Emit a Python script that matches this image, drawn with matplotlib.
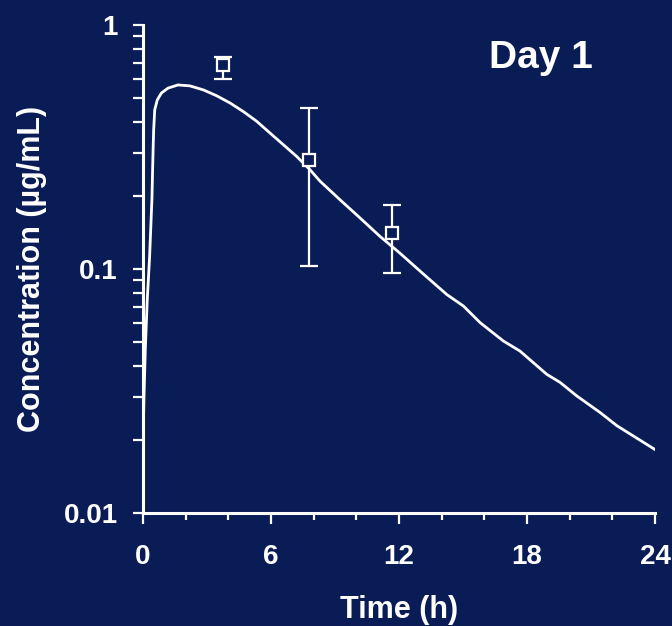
import matplotlib
matplotlib.use("Agg")
import matplotlib.pyplot as plt
from matplotlib.ticker import LogLocator, NullFormatter, FixedLocator

# ---- data ----
curve_time = [0.0, 0.047, 0.108, 0.20, 0.31, 0.42, 0.45, 0.47, 0.50, 0.55, 0.67, 0.86,
              1.17, 1.64, 2.20, 2.83, 3.45, 4.08, 4.70, 5.33, 5.95, 6.58, 7.21, 7.83,
              8.30, 9.24, 10.17, 11.11, 12.05, 12.99, 14.24, 15.02, 15.80, 16.89,
              17.67, 18.93, 19.55, 20.33, 21.43, 22.21, 24.0]
curve_conc = [0.0191, 0.0301, 0.0469, 0.0750, 0.1125, 0.195, 0.255, 0.300, 0.372, 0.449,
              0.493, 0.526, 0.551, 0.568, 0.563, 0.542, 0.513, 0.479, 0.442, 0.403,
              0.361, 0.323, 0.289, 0.255, 0.229, 0.192, 0.162, 0.136, 0.116, 0.098,
              0.0786, 0.0705, 0.0603, 0.0507, 0.0461, 0.0370, 0.0343, 0.0302, 0.0258,
              0.0228, 0.0182]

obs_time = [3.76, 7.78, 11.66]
obs_conc = [0.686, 0.2805, 0.1406]
obs_upper = [0.738, 0.456, 0.1836]
obs_lower = [0.601, 0.1027, 0.0965]

x_ticks = [0, 6, 12, 18, 24]
y_ticks = [0.01, 0.1, 1]
y_tick_labels = ["0.01", "0.1", "1"]
x_label = "Time (h)"
y_label = "Concentration (µg/mL)"
title_text = "Day 1"

# ---- style ----
BG = "#0a1c56"
FG = "white"
plt.rcParams["font.family"] = ["Liberation Sans", "DejaVu Sans"]
plt.rcParams["font.weight"] = "bold"

fig = plt.figure(figsize=(6.72, 6.26), dpi=100, facecolor=BG)
ax = fig.add_axes([143 / 672, 1 - 513 / 626, 512 / 672, 488 / 626], facecolor=BG)

ax.plot(curve_time, curve_conc, color=FG, lw=2.0, solid_joinstyle="round", zorder=2)

yerr = [[c - l for c, l in zip(obs_conc, obs_lower)],
        [u - c for c, u in zip(obs_conc, obs_upper)]]
ax.errorbar(obs_time, obs_conc, yerr=yerr, fmt="s", ms=8.5, mfc=BG, mec=FG, mew=1.6,
            ecolor=FG, elinewidth=1.6, capsize=6.5, capthick=1.6, zorder=3)

ax.set_yscale("log")
ax.set_xlim(0, 24)
ax.set_ylim(0.01, 1)

ax.set_xticks(x_ticks)
ax.xaxis.set_minor_locator(FixedLocator([2, 4, 8, 10, 14, 16, 20, 22]))
ax.set_yticks(y_ticks)
ax.set_yticklabels(y_tick_labels)
ax.yaxis.set_minor_locator(LogLocator(base=10, subs=range(2, 10)))
ax.yaxis.set_minor_formatter(NullFormatter())

for s in ["top", "right"]:
    ax.spines[s].set_visible(False)
for s in ["left", "bottom"]:
    ax.spines[s].set_color(FG)
    ax.spines[s].set_linewidth(2.2)

ax.tick_params(axis="both", which="both", colors=FG, width=1.6, direction="out")
ax.tick_params(axis="x", which="major", length=8, pad=14, labelsize=20)
ax.tick_params(axis="x", which="minor", length=5)
ax.tick_params(axis="y", which="major", length=7, pad=11, labelsize=20)
ax.tick_params(axis="y", which="minor", length=7)
for lbl in ax.get_xticklabels() + ax.get_yticklabels():
    lbl.set_fontweight("bold")

ax.set_xlabel(x_label, color=FG, fontsize=22, fontweight="bold", labelpad=18)
ax.set_ylabel(y_label, color=FG, fontsize=22, fontweight="bold", labelpad=12)

ax.text(0.778, 0.933, title_text, transform=ax.transAxes, color=FG, fontsize=28,
        fontweight="bold", ha="center", va="center")

fig.savefig("out.png", dpi=100, facecolor=BG)
